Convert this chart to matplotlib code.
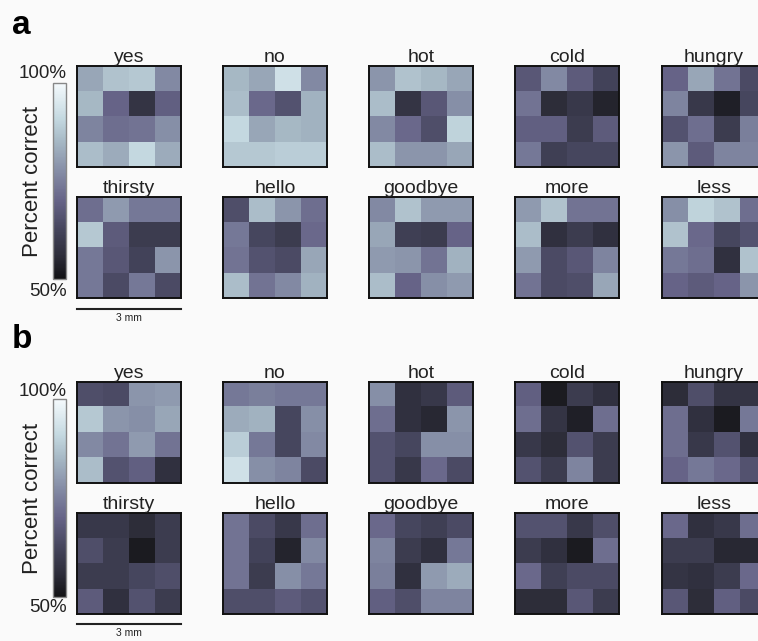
import numpy as np
import matplotlib
matplotlib.use("Agg")
import matplotlib.pyplot as plt
from matplotlib.colors import LinearSegmentedColormap, Normalize
from matplotlib.colorbar import ColorbarBase

plt.rcParams['font.family'] = ['Liberation Sans', 'DejaVu Sans']

words = ["yes", "no", "hot", "cold", "hungry",
         "thirsty", "hello", "goodbye", "more", "less"]

# Percent correct per electrode (4x4 grid), condition a
yes_a = [[82, 87, 88, 77], [85, 70, 58, 69], [76, 72, 73, 78], [86, 83, 91, 83]]
no_a = [[85, 82, 93, 77], [86, 71, 66, 84], [91, 82, 85, 84], [88, 88, 89, 89]]
hot_a = [[79, 87, 85, 82], [86, 58, 67, 78], [77, 71, 65, 90], [86, 79, 79, 82]]
cold_a = [[67, 77, 68, 62], [73, 56, 59, 54], [69, 69, 60, 68], [74, 61, 63, 63]]
hungry_a = [[70, 82, 73, 64], [76, 59, 53, 63], [66, 72, 60, 75], [79, 68, 76, 76]]
thirsty_a = [[72, 80, 74, 74], [88, 68, 60, 60], [74, 67, 62, 79], [74, 64, 74, 64]]
hello_a = [[65, 86, 79, 72], [74, 63, 60, 71], [73, 66, 64, 82], [86, 73, 77, 84]]
goodbye_a = [[77, 87, 80, 80], [82, 61, 60, 70], [80, 79, 73, 84], [86, 70, 78, 80]]
more_a = [[80, 87, 73, 73], [86, 57, 60, 57], [80, 64, 67, 76], [73, 64, 65, 82]]
less_a = [[78, 90, 87, 72], [87, 71, 63, 66], [74, 72, 57, 87], [70, 68, 70, 79]]

# Percent correct per electrode (4x4 grid), condition b
yes_b = [[65, 64, 79, 80], [88, 79, 78, 82], [77, 73, 80, 73], [86, 66, 69, 57]]
no_b = [[74, 75, 74, 74], [83, 84, 63, 78], [89, 74, 63, 77], [93, 78, 76, 64]]
hot_b = [[78, 57, 59, 68], [72, 57, 55, 79], [66, 63, 78, 78], [66, 59, 71, 64]]
cold_b = [[69, 52, 60, 57], [72, 58, 53, 72], [59, 56, 66, 60], [66, 60, 76, 60]]
hungry_b = [[56, 65, 58, 58], [72, 57, 52, 74], [72, 59, 66, 57], [70, 74, 71, 66]]
thirsty_b = [[59, 59, 56, 60], [65, 60, 52, 60], [60, 60, 63, 65], [68, 57, 66, 60]]
hello_b = [[73, 64, 59, 72], [73, 62, 54, 77], [73, 60, 78, 74], [65, 65, 68, 66]]
goodbye_b = [[71, 63, 61, 64], [76, 60, 57, 74], [75, 57, 80, 83], [69, 65, 76, 76]]
more_b = [[66, 66, 59, 65], [60, 57, 52, 72], [71, 61, 64, 64], [56, 56, 67, 60]]
less_b = [[71, 57, 59, 72], [60, 60, 55, 55], [58, 57, 60, 71], [67, 56, 69, 64]]

grids_a = [yes_a, no_a, hot_a, cold_a, hungry_a,
           thirsty_a, hello_a, goodbye_a, more_a, less_a]
grids_b = [yes_b, no_b, hot_b, cold_b, hungry_b,
           thirsty_b, hello_b, goodbye_b, more_b, less_b]

vmin, vmax = 50, 100

cmap = LinearSegmentedColormap.from_list("acc", [
    (0.00, (0.07, 0.07, 0.08)),
    (0.12, (0.18, 0.18, 0.23)),
    (0.25, (0.27, 0.27, 0.36)),
    (0.40, (0.40, 0.39, 0.53)),
    (0.55, (0.52, 0.55, 0.65)),
    (0.70, (0.65, 0.72, 0.77)),
    (0.82, (0.77, 0.85, 0.88)),
    (1.00, (0.96, 0.98, 0.99)),
])
norm = Normalize(vmin=vmin, vmax=vmax)

W, H = 758, 641
fig = plt.figure(figsize=(W / 100, H / 100), dpi=100, facecolor="#fafafa")


def fx(px):
    return px / W


def fy(py):
    return 1 - py / H


col_left = [77, 223, 369, 515, 662]
pw, ph = 104, 101


def draw_panel(letter, grids, row_tops, letter_y, cbar_top, cbar_bot,
               lab_top, lab_bot, bar_y, bar_txt_y):
    fig.text(fx(12), fy(letter_y), letter, fontsize=24, fontweight="bold",
             ha="left", va="center")
    for i, (word, grid) in enumerate(zip(words, grids)):
        r, c = divmod(i, 5)
        top = row_tops[r]
        ax = fig.add_axes([fx(col_left[c]), fy(top + ph), fx(pw), ph / H])
        ax.imshow(np.array(grid, dtype=float), cmap=cmap, norm=norm,
                  interpolation="nearest", aspect="auto")
        ax.set_xticks([])
        ax.set_yticks([])
        for s in ax.spines.values():
            s.set_linewidth(1.4)
            s.set_color("#111111")
        ax.set_title(word, fontsize=14, pad=2.5, color="#222222")

    cax = fig.add_axes([fx(53), fy(cbar_bot), fx(13), (cbar_bot - cbar_top) / H])
    cb = ColorbarBase(cax, cmap=cmap, norm=norm, orientation="vertical")
    cb.set_ticks([])
    cb.outline.set_edgecolor("#888888")
    cb.outline.set_linewidth(1.0)

    fig.text(fx(67), fy(lab_top), "100%", fontsize=13.5, ha="right",
             va="center", color="#222222")
    fig.text(fx(67), fy(lab_bot), "50%", fontsize=13.5, ha="right",
             va="center", color="#222222")
    fig.text(fx(33), fy((cbar_top + cbar_bot) / 2), "Percent correct",
             fontsize=16, rotation=90, ha="center", va="center",
             color="#222222")

    fig.add_artist(plt.Line2D([fx(77), fx(181)], [fy(bar_y), fy(bar_y)],
                              color="#222222", lw=1.5))
    fig.text(fx(129), fy(bar_txt_y), "3 mm", fontsize=7.5, ha="center",
             va="center", color="#222222")


draw_panel("a", grids_a, [66, 197], 26, 83, 279, 73, 292, 309, 318)
draw_panel("b", grids_b, [382, 513], 340, 399, 597, 391, 608, 624, 633)

fig.savefig("out.png", dpi=100, facecolor=fig.get_facecolor())
